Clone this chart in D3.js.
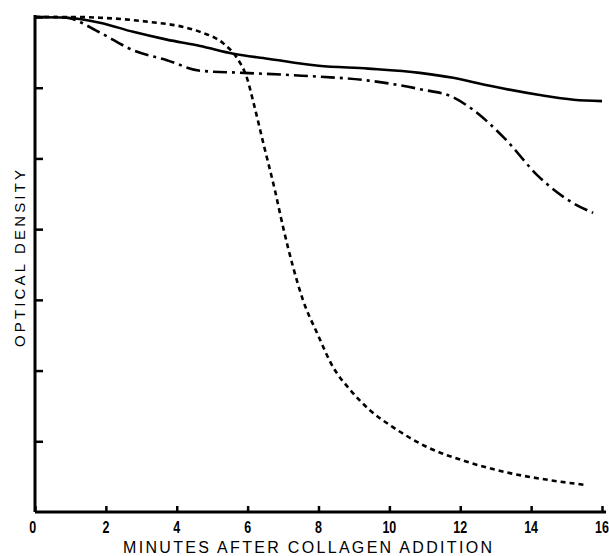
<!DOCTYPE html>
<html>
<head>
<meta charset="utf-8">
<script src="https://cdn.jsdelivr.net/npm/d3@7"></script>
<style>
  body { margin: 0; background: #fff; }
  svg { display: block; }
  text { font-family: "Liberation Sans", "DejaVu Sans", sans-serif; fill: #000; }
</style>
</head>
<body>
<svg width="609" height="556"></svg>
<script>
// values (y in tick units, 0 = baseline, 7 = top)
const xTicks = [0, 2, 4, 6, 8, 10, 12, 14, 16];
const yTicks = [1, 2, 3, 4, 5, 6, 7];

const solidX = [0, 0.9, 1.83, 2.77, 3.72, 4.66, 5.6, 6.57, 8.0, 9.4, 10.86, 11.8, 12.8, 14.2, 15.2, 16.0];
const solidY = [7.0, 6.99, 6.92, 6.79, 6.68, 6.59, 6.48, 6.41, 6.31, 6.27, 6.21, 6.14, 6.03, 5.90, 5.83, 5.81];

const dashDotX = [0, 0.56, 0.9, 1.83, 2.77, 3.72, 4.66, 5.9, 7.53, 9.42, 10.86, 11.82, 12.3, 13.26, 14.2, 15.18, 15.75];
const dashDotY = [7.0, 7.0, 6.99, 6.78, 6.53, 6.39, 6.24, 6.21, 6.17, 6.10, 5.98, 5.86, 5.71, 5.28, 4.75, 4.37, 4.23];

const dottedX = [0, 1.2, 1.83, 3.24, 4.18, 4.66, 5.33, 5.7, 5.98, 6.18, 6.46, 6.77, 7.0, 7.28, 7.56, 7.96, 8.41, 8.89, 9.45, 10.1, 11.06, 12.19, 13.4, 14.53, 15.58];
const dottedY = [7.0, 7.0, 6.99, 6.93, 6.86, 6.79, 6.62, 6.42, 6.14, 5.76, 5.18, 4.55, 4.03, 3.47, 3.0, 2.53, 2.05, 1.73, 1.44, 1.20, 0.92, 0.71, 0.55, 0.45, 0.38];

const svg = d3.select("svg");

const x = d3.scaleLinear().domain([0, 16]).range([35, 602]);
const y = d3.scaleLinear().domain([0, 7]).range([512, 17]);

// axes
const xAxis = svg.append("g")
    .attr("transform", `translate(0,${y(0)})`)
    .call(d3.axisTop(x).tickValues(xTicks).tickSize(6).tickFormat(""));
xAxis.select(".domain").attr("stroke-width", 3).attr("d", `M${x(0)},0H${x(16) + 4}`);
xAxis.selectAll(".tick line").attr("stroke-width", 2.5);

const yAxis = svg.append("g")
    .attr("transform", `translate(${x(0)},0)`)
    .call(d3.axisRight(y).tickValues(yTicks).tickSize(8).tickFormat(""));
yAxis.select(".domain").attr("stroke-width", 3).attr("d", `M0,${y(0)}V${y(7) - 2}`);
yAxis.selectAll(".tick line").attr("stroke-width", 2.5);

svg.append("g")
    .selectAll("text")
    .data(xTicks)
    .enter()
    .append("text")
    .attr("x", d => x(d) - (d === 0 ? 3 : 0))
    .attr("y", 533)
    .attr("text-anchor", "middle")
    .attr("font-size", 16)
    .attr("font-weight", "bold")
    .attr("transform", d => `translate(${x(d)},0) scale(0.78,1) translate(${-x(d)},0)`)
    .text(d => d);

svg.append("text")
    .attr("x", 307.5)
    .attr("y", 553)
    .attr("text-anchor", "middle")
    .attr("font-size", 16)
    .attr("textLength", 369)
    .attr("lengthAdjust", "spacing")
    .text("MINUTES AFTER COLLAGEN ADDITION");

svg.append("text")
    .attr("transform", "translate(24.5,258.5) rotate(-90)")
    .attr("text-anchor", "middle")
    .attr("font-size", 15)
    .attr("textLength", 177)
    .attr("lengthAdjust", "spacing")
    .text("OPTICAL DENSITY");

// curves
const line = d3.line()
    .x(d => x(d[0]))
    .y(d => y(d[1]))
    .curve(d3.curveMonotoneX);

const series = [
    { xs: solidX, ys: solidY, dash: null },
    { xs: dashDotX, ys: dashDotY, dash: "14,5,3,5" },
    { xs: dottedX, ys: dottedY, dash: "5,4" }
];

svg.append("g")
    .selectAll("path")
    .data(series)
    .enter()
    .append("path")
    .attr("d", s => line(s.xs.map((v, i) => [v, s.ys[i]])))
    .attr("fill", "none")
    .attr("stroke", "#000")
    .attr("stroke-width", 2.6)
    .attr("stroke-dasharray", s => s.dash);
</script>
</body>
</html>
